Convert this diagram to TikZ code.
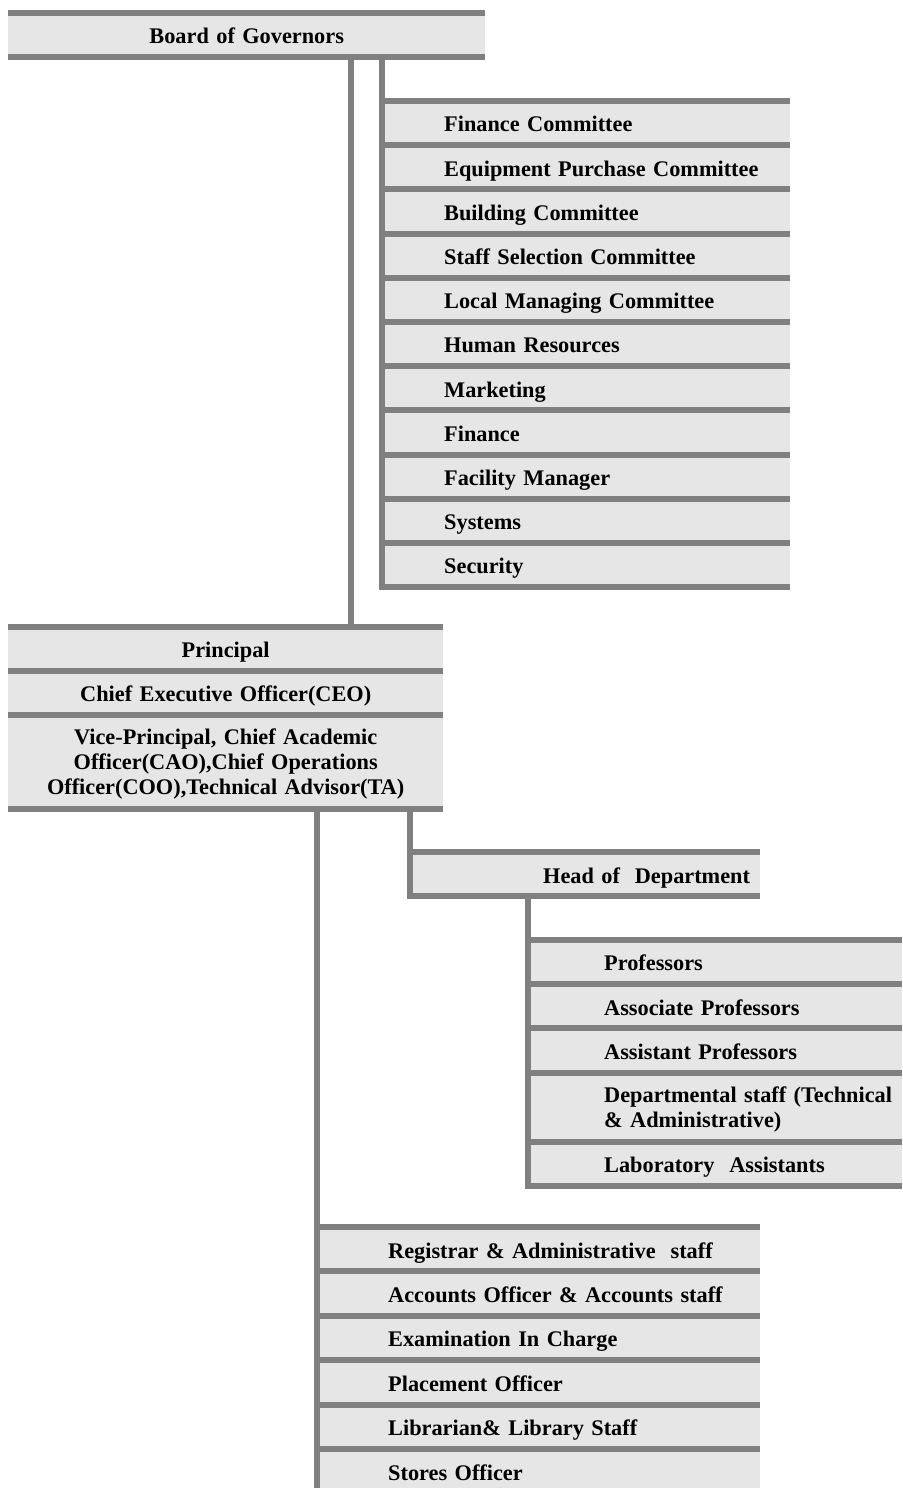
\documentclass[tikz,border=0pt]{standalone}
\usepackage{fontspec}
\setmainfont{Liberation Serif}
\usepackage{tikz}
\usetikzlibrary{positioning}
\definecolor{rulegray}{HTML}{808080}
\definecolor{boxgray}{HTML}{E6E6E6}
\newcommand{\orgfont}{\bfseries\fontsize{22.3}{25}\selectfont\spaceskip=4.5pt\relax}
\tikzstyle{box} = [rectangle, fill=boxgray, inner sep=0pt, font=\orgfont, text height=20pt, text depth=2.4pt]
\tikzstyle{board} = [box, text width=477pt, minimum height=44pt, align=center]
\tikzstyle{head} = [box, text width=435pt, align=center]
\tikzstyle{committee} = [box, text width=408pt, minimum height=43.8pt, align=left, execute at begin node={\leftskip=62pt}]
\tikzstyle{hod} = [box, text width=350pt, minimum height=44pt, align=left, execute at begin node={\leftskip=133pt}]
\tikzstyle{faculty} = [box, text width=374pt, minimum height=43.8pt, align=left, execute at begin node={\leftskip=76pt}]
\tikzstyle{office} = [box, text width=443pt, minimum height=44pt, align=left, execute at begin node={\leftskip=71pt}]
\tikzstyle{hline} = [draw=rulegray, line width=6pt]
\tikzstyle{link} = [draw=rulegray, line width=6pt, line cap=rect]

\begin{document}
\begin{tikzpicture}[x=1pt, y=-1pt]
\useasboundingbox (0,0) rectangle (902,1488);

\node (bog) [board, anchor=north west] at (8,13) {Board of Governors};

\node (c1) [committee, anchor=north west] at (382,101) {Finance Committee};
\node (c2) [committee, below=0pt of c1] {Equipment Purchase Committee};
\node (c3) [committee, below=0pt of c2] {Building Committee};
\node (c4) [committee, below=0pt of c3] {Staff Selection Committee};
\node (c5) [committee, below=0pt of c4] {Local Managing Committee};
\node (c6) [committee, below=0pt of c5] {Human Resources};
\node (c7) [committee, below=0pt of c6] {Marketing};
\node (c8) [committee, below=0pt of c7] {Finance};
\node (c9) [committee, below=0pt of c8] {Facility Manager};
\node (c10) [committee, below=0pt of c9] {Systems};
\node (c11) [committee, below=0pt of c10] {Security};

\node (p1) [head, minimum height=43.5pt, anchor=north west] at (8,627) {Principal};
\node (p2) [head, minimum height=44pt, below=0pt of p1] {Chief Executive Officer(CEO)};
\node (p3) [head, minimum height=93.5pt, text depth={}, below=0pt of p2] {Vice-Principal, Chief Academic\\ Officer(CAO),Chief Operations\\ Officer(COO),Technical Advisor(TA)};

\node (hod) [hod, anchor=north west] at (410,852) {Head of~ Department};

\node (f1) [faculty, anchor=north west] at (528,940) {Professors};
\node (f2) [faculty, below=0pt of f1] {Associate Professors};
\node (f3) [faculty, below=0pt of f2] {Assistant Professors};
\node (f4) [faculty, minimum height=68.6pt, text depth={}, below=0pt of f3] {Departmental staff (Technical\\ \& Administrative)};
\node (f5) [faculty, minimum height=44pt, below=0pt of f4] {Laboratory~ Assistants};

\node (r1) [office, anchor=north west] at (317,1227) {Registrar \& Administrative~ staff};
\node (r2) [office, below=0pt of r1] {Accounts Officer \& Accounts staff};
\node (r3) [office, below=0pt of r2] {Examination In Charge};
\node (r4) [office, below=0pt of r3] {Placement Officer};
\node (r5) [office, below=0pt of r4] {Librarian\& Library Staff};
\node (r6) [office, below=0pt of r5] {Stores Officer};

\foreach \n in {bog,c1,c2,c3,c4,c5,c6,c7,c8,c9,c10,c11,p1,p2,p3,hod,f1,f2,f3,f4,f5,r1,r2,r3,r4,r5,r6}
  \draw [hline] (\n.north west) -- (\n.north east);
\foreach \n in {bog,c11,p3,hod,f5}
  \draw [hline] (\n.south west) -- (\n.south east);

\draw [link] (c1.north west |- bog.south) -- (c11.south west);
\draw [link] ([xshift=342.5pt]bog.south west) -- ([xshift=342.5pt]p1.north west);
\draw [link] ([xshift=309pt]p3.south west) -- (r6.south west);
\draw [link] ([xshift=402pt]p3.south west) -- (hod.south west);
\draw [link] ([xshift=118pt]hod.south west) -- (f5.south west);
\end{tikzpicture}
\end{document}
